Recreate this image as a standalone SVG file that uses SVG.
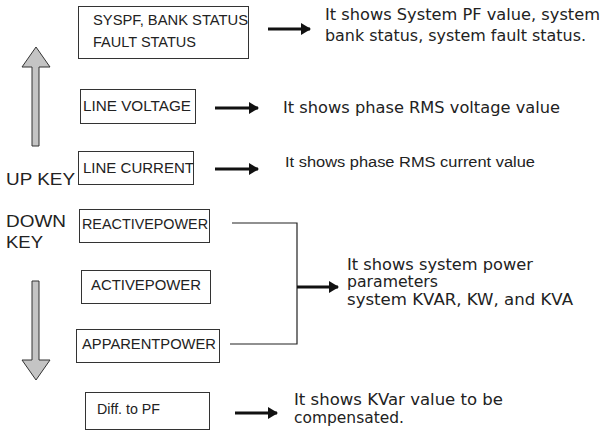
<svg xmlns="http://www.w3.org/2000/svg" width="603" height="431" viewBox="0 0 603 431">
<defs>
<style>
.box{fill:#fff;stroke:#333;stroke-width:1}
.lbl{font-family:"Liberation Sans",Arial,sans-serif;font-size:14px;fill:#222}
.key{font-family:"Liberation Sans",Arial,sans-serif;font-size:17px;fill:#222}
.desc{font-family:"DejaVu Sans",Verdana,sans-serif;font-size:15px;fill:#222}
.desc2{font-family:"Liberation Sans",Arial,sans-serif;font-size:14px;fill:#222}
.arr{stroke:#111;stroke-width:3;fill:none}
.thin{stroke:#222;stroke-width:1.2;fill:none}
.big{fill:#c4c4c4;stroke:#333;stroke-width:1}
</style>
<marker id="ah" viewBox="0 0 10 12" refX="9" refY="6" markerWidth="10" markerHeight="12" markerUnits="userSpaceOnUse" orient="auto">
<path d="M0,0 L10,6 L0,12 Z" fill="#111"/>
</marker>
</defs>
<rect width="603" height="431" fill="#fff"/>

<g id="up-arrow">
<path class="big" d="M36,47 L50,67 L39,67 L39,146 L32,146 L32,67 L22,67 Z"/>
</g>
<g id="down-arrow">
<path class="big" d="M32,281 L39,281 L39,360 L50,360 L36,380 L22,360 L32,360 Z"/>
</g>
<g id="keys">
<text class="key" x="6" y="185" textLength="69" lengthAdjust="spacingAndGlyphs">UP KEY</text>
<text class="key" x="6" y="227" textLength="60" lengthAdjust="spacingAndGlyphs">DOWN</text>
<text class="key" x="6" y="248" textLength="37" lengthAdjust="spacingAndGlyphs">KEY</text>
</g>

<g id="n-syspf">
<rect class="box" x="78.5" y="6.5" width="170" height="52"/>
<text class="lbl" x="93" y="25" textLength="155" lengthAdjust="spacingAndGlyphs">SYSPF, BANK STATUS</text>
<text class="lbl" x="93" y="47" textLength="103" lengthAdjust="spacingAndGlyphs">FAULT STATUS</text>
</g>
<g id="n-linevoltage">
<rect class="box" x="80.5" y="89.5" width="115" height="34"/>
<text class="lbl" x="83" y="111" textLength="108" lengthAdjust="spacingAndGlyphs">LINE VOLTAGE</text>
</g>
<g id="n-linecurrent">
<rect class="box" x="78.5" y="151.5" width="115" height="33"/>
<text class="lbl" x="83" y="173" textLength="111" lengthAdjust="spacingAndGlyphs">LINE CURRENT</text>
</g>
<g id="n-reactive">
<rect class="box" x="79.5" y="209.5" width="130" height="33"/>
<text class="lbl" x="82" y="229" textLength="126" lengthAdjust="spacingAndGlyphs">REACTIVEPOWER</text>
</g>
<g id="n-active">
<rect class="box" x="81.5" y="270.5" width="129" height="33"/>
<text class="lbl" x="91" y="290" textLength="110" lengthAdjust="spacingAndGlyphs">ACTIVEPOWER</text>
</g>
<g id="n-apparent">
<rect class="box" x="76.5" y="329.5" width="143" height="33"/>
<text class="lbl" x="82" y="349" textLength="134" lengthAdjust="spacingAndGlyphs">APPARENTPOWER</text>
</g>
<g id="n-diff">
<rect class="box" x="85.5" y="392.5" width="124" height="37"/>
<text class="lbl" x="97" y="414" textLength="63" lengthAdjust="spacingAndGlyphs">Diff. to PF</text>
</g>

<g id="connectors">
<line class="arr" x1="268" y1="29" x2="310" y2="29" marker-end="url(#ah)"/>
<line class="arr" x1="215" y1="108" x2="258" y2="108" marker-end="url(#ah)"/>
<line class="arr" x1="215" y1="169" x2="258" y2="169" marker-end="url(#ah)"/>
<polyline class="thin" points="232,223 297,223 297,344 230,344"/>
<line class="arr" x1="297" y1="287" x2="338" y2="287" marker-end="url(#ah)"/>
<line class="arr" x1="235" y1="413" x2="277" y2="413" marker-end="url(#ah)"/>
</g>

<g id="descriptions">
<text class="desc" x="325" y="20" textLength="275" lengthAdjust="spacingAndGlyphs">It shows System PF value, system</text>
<text class="desc" x="325" y="41" textLength="261" lengthAdjust="spacingAndGlyphs">bank status, system fault status.</text>
<text class="desc" x="283" y="113" textLength="277" lengthAdjust="spacingAndGlyphs">It shows phase RMS voltage value</text>
<text class="desc2" x="285" y="167" textLength="250" lengthAdjust="spacingAndGlyphs">It shows phase RMS current value</text>
<text class="desc" x="347" y="270" textLength="186" lengthAdjust="spacingAndGlyphs">It shows system power</text>
<text class="desc" x="347" y="287" textLength="91" lengthAdjust="spacingAndGlyphs">parameters</text>
<text class="desc" x="347" y="305" textLength="226" lengthAdjust="spacingAndGlyphs">system KVAR, KW, and KVA</text>
<text class="desc" x="294" y="405" textLength="209" lengthAdjust="spacingAndGlyphs">It shows KVar value to be</text>
<text class="desc" x="294" y="423" textLength="110" lengthAdjust="spacingAndGlyphs">compensated.</text>
</g>
</svg>
